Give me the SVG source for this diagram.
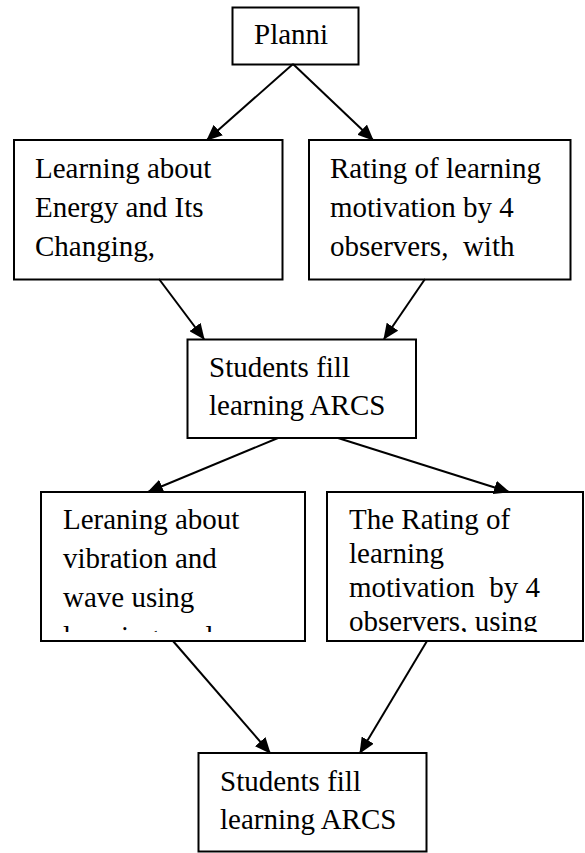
<svg xmlns="http://www.w3.org/2000/svg" width="585" height="853" viewBox="0 0 585 853">
  <defs>
    <style>
      .box { fill: #ffffff; stroke: #000000; stroke-width: 2; }
      .lbl { font-family: "Liberation Serif", "Times New Roman", serif; font-size: 29px; fill: #000000; white-space: pre; }
      .edge { stroke: #000000; stroke-width: 2; fill: none; marker-end: url(#head); }
    </style>
    <marker id="head" viewBox="0 0 16 14" refX="15" refY="7" markerWidth="16" markerHeight="14" markerUnits="userSpaceOnUse" orient="auto">
      <path d="M0,0 L16,7 L0,14 z" fill="#000000"/>
    </marker>
    <clipPath id="clipBL"><rect x="41" y="492" width="264" height="140"/></clipPath>
    <clipPath id="clipBR"><rect x="327" y="492" width="256" height="140"/></clipPath>
  </defs>
  <rect width="585" height="853" fill="#ffffff"/>

  <g id="planning">
    <rect class="box" x="232.5" y="7.5" width="126" height="57"/>
    <text class="lbl" x="254" y="44">Planni</text>
  </g>

  <g id="learning-energy">
    <rect class="box" x="14" y="140" width="268.5" height="139.5"/>
    <text class="lbl" x="35" y="178">Learning about</text>
    <text class="lbl" x="35" y="217">Energy and Its</text>
    <text class="lbl" x="35" y="256">Changing,</text>
  </g>

  <g id="rating-first">
    <rect class="box" x="309" y="140" width="261.5" height="139.5"/>
    <text class="lbl" x="330" y="178">Rating of learning</text>
    <text class="lbl" x="330" y="217">motivation by 4</text>
    <text class="lbl" x="330" y="256">observers,  with</text>
  </g>

  <g id="arcs-first">
    <rect class="box" x="187.5" y="339.5" width="228.5" height="98.5"/>
    <text class="lbl" x="209" y="377">Students fill</text>
    <text class="lbl" x="209" y="415">learning ARCS</text>
  </g>

  <g id="learning-vibration">
    <rect class="box" x="41" y="492" width="264" height="149"/>
    <g clip-path="url(#clipBL)">
      <text class="lbl" x="63" y="529">Leraning about</text>
      <text class="lbl" x="63" y="568">vibration and</text>
      <text class="lbl" x="63" y="607">wave using</text>
      <text class="lbl" x="63" y="646">learning cycle</text>
    </g>
  </g>

  <g id="rating-second">
    <rect class="box" x="327" y="492" width="256" height="149"/>
    <g clip-path="url(#clipBR)">
      <text class="lbl" x="349" y="529">The Rating of</text>
      <text class="lbl" x="349" y="563">learning</text>
      <text class="lbl" x="349" y="597">motivation  by 4</text>
      <text class="lbl" x="349" y="631">observers, using</text>
    </g>
  </g>

  <g id="arcs-second">
    <rect class="box" x="198.5" y="753" width="228" height="98.5"/>
    <text class="lbl" x="220" y="791">Students fill</text>
    <text class="lbl" x="220" y="829">learning ARCS</text>
  </g>

  <g id="connectors">
    <line class="edge" x1="293" y1="64" x2="207" y2="140"/>
    <line class="edge" x1="293" y1="64" x2="373" y2="140"/>
    <line class="edge" x1="159" y1="279" x2="204" y2="339"/>
    <line class="edge" x1="425" y1="279" x2="384" y2="339"/>
    <line class="edge" x1="278" y1="438" x2="148" y2="492"/>
    <line class="edge" x1="338" y1="438" x2="509" y2="492"/>
    <line class="edge" x1="173" y1="641" x2="270" y2="753"/>
    <line class="edge" x1="427" y1="641" x2="360" y2="753"/>
  </g>
</svg>
